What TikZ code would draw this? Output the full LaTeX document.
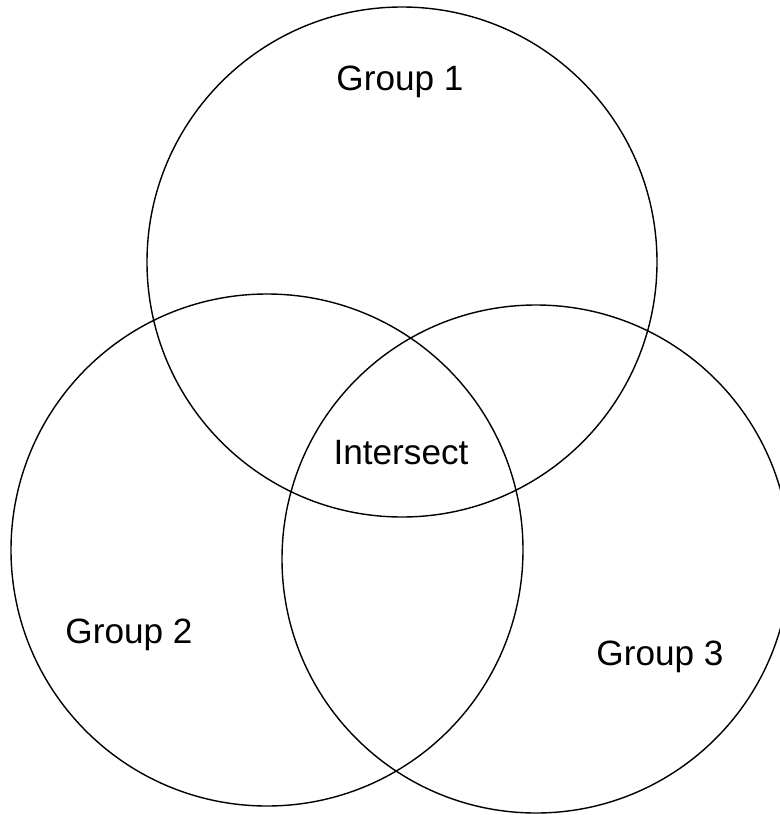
\documentclass[tikz,border=0pt]{standalone}
\usepackage{fontspec}
\setmainfont{Liberation Sans}
\usepackage{tikz}
\usetikzlibrary{positioning}

\begin{document}
\begin{tikzpicture}[
    x=0.01cm, y=-0.01cm,
    set/.style={draw, line width=0.4pt},
    label/.style={font=\fontsize{10}{12}\selectfont, inner sep=0pt}
]
\useasboundingbox (0,0) rectangle (780,815);

% the three groups
\draw[set] (402,262) circle[radius=255];
\draw[set] (267,550) circle[radius=256];
\draw[set] (536,559) circle[radius=254];

\node[label] (g1) at (400,82) {Group 1};
\node[label] (mid) at (401,453) {Intersect};
\node[label] (g2) at (129,635) {Group 2};
\node[label] (g3) at (660,657) {Group 3};

\end{tikzpicture}
\end{document}
